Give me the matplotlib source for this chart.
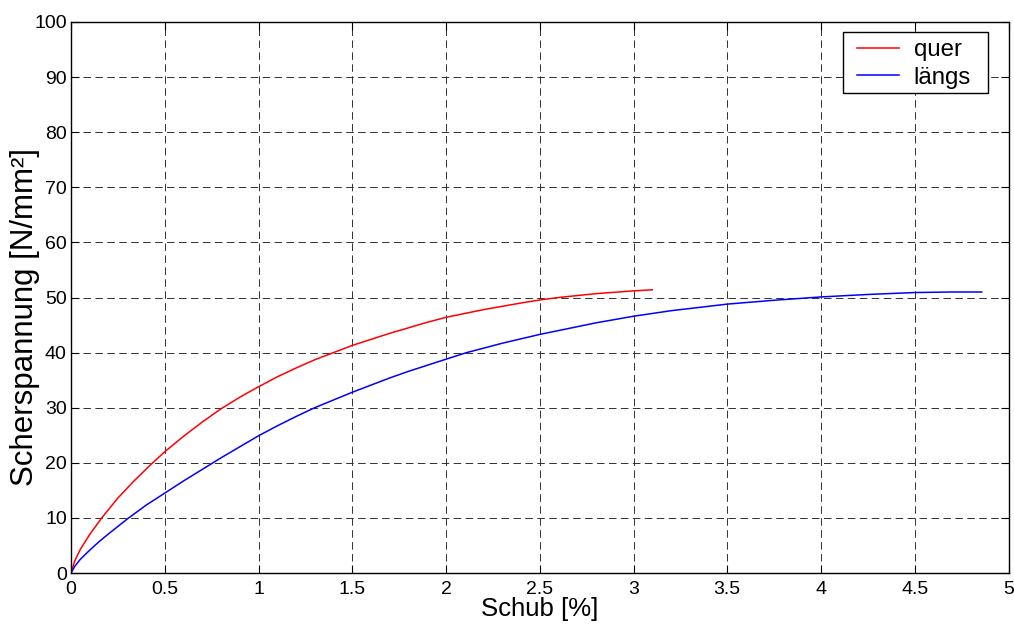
import matplotlib
matplotlib.use("Agg")
import matplotlib.pyplot as plt
from matplotlib.patches import Rectangle

plt.rcParams['font.family'] = ['Liberation Sans', 'DejaVu Sans']
plt.rcParams['lines.scale_dashes'] = False

quer_x = [0.0, 0.02, 0.05, 0.1, 0.164, 0.25, 0.33, 0.42, 0.5, 0.6, 0.7, 0.8, 0.9, 1.0,
          1.1, 1.2, 1.3, 1.4, 1.5, 1.6, 1.7, 1.8, 1.9, 2.0, 2.2, 2.4, 2.5, 2.6, 2.8, 3.0, 3.1]
quer_y = [0.0, 2.2, 4.3, 7.0, 10.0, 13.6, 16.5, 19.5, 22.0, 24.8, 27.4, 29.8, 31.9, 33.8,
          35.6, 37.2, 38.7, 40.0, 41.3, 42.4, 43.5, 44.5, 45.5, 46.4, 47.8, 49.0, 49.55, 50.0, 50.7, 51.2, 51.4]

laengs_x = [0.0, 0.02, 0.05, 0.1, 0.15, 0.2, 0.3, 0.4, 0.5, 0.6, 0.7, 0.8, 0.9, 1.0, 1.1, 1.2,
            1.3, 1.4, 1.5, 1.6, 1.7, 1.8, 1.9, 2.0, 2.11, 2.2, 2.3, 2.4, 2.5, 2.6, 2.8,
            3.0, 3.2, 3.5, 3.75, 4.0, 4.25, 4.5, 4.7, 4.857]
laengs_y = [0.0, 1.2, 2.5, 4.15, 5.7, 7.1, 9.8, 12.3, 14.5, 16.7, 18.8, 20.9, 22.9, 24.9, 26.7, 28.4,
            30.0, 31.4, 32.8, 34.1, 35.4, 36.6, 37.7, 38.8, 40.0, 40.8, 41.7, 42.5, 43.3, 44.0, 45.4,
            46.6, 47.6, 48.8, 49.5, 50.1, 50.55, 50.9, 51.0, 51.0]

xticks = [0, 0.5, 1, 1.5, 2, 2.5, 3, 3.5, 4, 4.5, 5]
xticklabels = ['0', '0.5', '1', '1.5', '2', '2.5', '3', '3.5', '4', '4.5', '5']
yticks = list(range(0, 101, 10))

W, H = 1014, 624
fig = plt.figure(figsize=(W / 100, H / 100), dpi=100)
L, R, T, B = 71, 1008.5, 22, 573
ax = fig.add_axes([L / W, 1 - B / H, (R - L) / W, (B - T) / H])

ax.plot(quer_x, quer_y, color='#ff0000', lw=1.1, label='quer')
ax.plot(laengs_x, laengs_y, color='#0000ff', lw=1.1, label='längs')

ax.set_xlim(0, 5)
ax.set_ylim(0, 100)
ax.set_xticks(xticks)
ax.set_xticklabels(xticklabels)
ax.set_yticks(yticks)
ax.grid(True, color='#303030', linestyle=(0, (5.4, 3.2)), linewidth=0.7)
ax.tick_params(direction='in', top=True, right=True, length=6, width=0.8,
               labelsize=14, colors='black')
ax.tick_params(axis='x', pad=5.5)
ax.tick_params(axis='y', pad=3)
for s in ax.spines.values():
    s.set_linewidth(1.0)

ax.set_xlabel('Schub [%]', fontsize=18.5)
ax.xaxis.set_label_coords(0.5, -0.043)
ax.set_ylabel('Scherspannung [N/mm²]', fontsize=22.5)
ax.yaxis.set_label_coords(-0.033, 0.4655)

# legend frame and entries
lx0, ly0, lx1, ly1 = 842.7, 31.7, 988.3, 92.7
ax.add_patch(Rectangle(((lx0 - L) / (R - L), (B - ly1) / (B - T)),
                       (lx1 - lx0) / (R - L), (ly1 - ly0) / (B - T),
                       transform=ax.transAxes, facecolor='white', edgecolor='black',
                       lw=1.0, zorder=5))
leg = ax.legend(loc='upper left',
                bbox_to_anchor=((lx0 + 12 - L) / (R - L), (B - ly0 - 5) / (B - T)),
                fontsize=17.3, frameon=False, borderaxespad=0, handlelength=1.76,
                borderpad=0.1, labelspacing=0.23, handletextpad=0.6)
leg.set_zorder(6)

fig.savefig('out.png', dpi=100)
